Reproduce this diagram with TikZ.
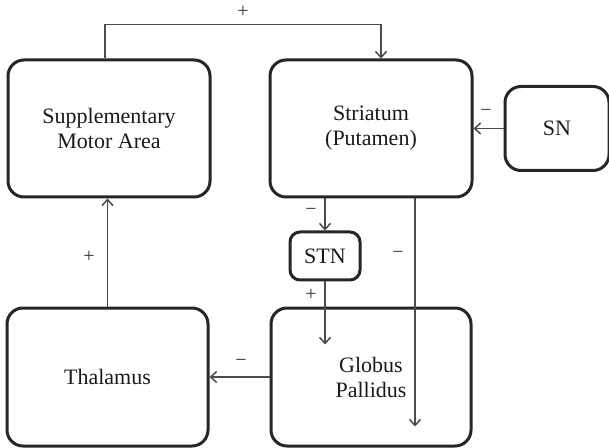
\documentclass[tikz,border=0pt]{standalone}
\usepackage{fontspec}
\setmainfont{Liberation Serif}
\usepackage{tikz}
\usetikzlibrary{calc,positioning,arrows.meta}

\newcommand{\negsign}{\char"2212}

\begin{document}
\begin{tikzpicture}[x=0.5pt,y=-0.5pt]

\tikzset{regionbox/.style={draw=black!85,line width=1.5pt,rounded corners=8pt,align=center,text=black!90,inner sep=2pt,font=\fontsize{11}{12.5}\selectfont},
link/.style={draw=black!70,line width=0.75pt},
linkarrow/.style={link,-{Straight Barb[length=3pt,width=5.5pt]}},
signlabel/.style={font=\fontsize{10}{11}\selectfont,text=black!80}}

\useasboundingbox (0,0) rectangle (609,448);

% Upper row
\node (sma) [regionbox,minimum width=101pt,minimum height=68.5pt] at (109,128.5) {Supplementary\\Motor Area};
\node (striatum) [regionbox,minimum width=101pt,minimum height=68.5pt] at (371,128.5) {Striatum\\(Putamen)};
\node (sn) [regionbox,minimum width=52pt,minimum height=42pt,right=15pt of striatum] {SN};

% Middle and lower row
\node (stn) [regionbox,minimum width=35pt,minimum height=24pt,rounded corners=5pt] at (325,256) {STN};
\node (gp) [regionbox,minimum width=100pt,minimum height=69pt] at (371,377) {Globus\\Pallidus};
\node (thal) [regionbox,minimum width=100.5pt,minimum height=69pt,left=30pt of gp] {Thalamus};

% Connector end points
\coordinate (smaTop) at ($(sma.north)+(-4,0)$);
\coordinate (stTop) at ($(striatum.north)+(10,0)$);
\coordinate (stRight) at ($(striatum.south)+(44,0)$);
\coordinate (gpLow) at ($(stRight)+(0,228)$);
\coordinate (gpEnd) at ($(stn.south)+(0,63)$);

%% Edges
\draw[linkarrow] (smaTop) -- ++(0,-34) -| (stTop);
\draw[linkarrow] (sn.west) -- (sn.west -| striatum.east);
\draw[linkarrow] (striatum.south -| stn.north) -- (stn.north);
\draw[linkarrow] (stn.south) -- (gpEnd);
\draw[linkarrow] (stRight) -- (gpLow);
\draw[linkarrow] (gp.west) -- (thal.east);
\draw[linkarrow] (thal.north) -- (thal.north |- sma.south);

% Signs
\node[signlabel] (plusTop) at (243,12) {+};
\node[signlabel] (minusSN) at (486,113) {\negsign};
\node[signlabel] (minusSTN) at (311,212) {\negsign};
\node[signlabel] (plusSTN) at (311,295) {+};
\node[signlabel] (minusGP) at (398,255) {\negsign};
\node[signlabel] (minusThal) at (241,363) {\negsign};
\node[signlabel] (plusThal) at (89,257) {+};
\end{tikzpicture}
\end{document}
